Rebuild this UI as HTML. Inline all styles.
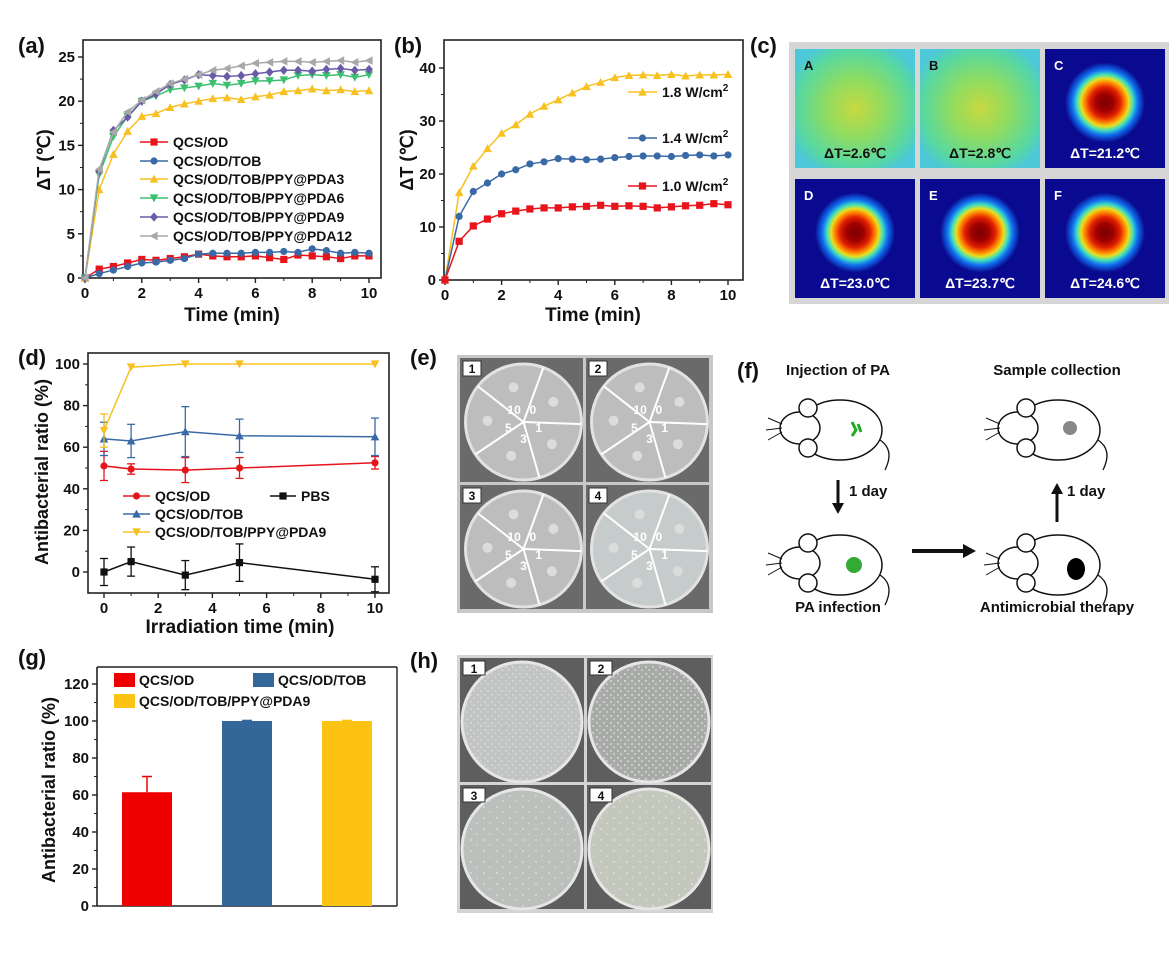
<!DOCTYPE html>
<html><head><meta charset="utf-8"><style>
html,body{margin:0;padding:0;background:#fff;}
svg{display:block;font-family:"Liberation Sans",Arial,sans-serif;}
text{font-weight:bold;}
</style></head><body>
<svg id="fig" width="1170" height="963" viewBox="0 0 1170 963" xmlns="http://www.w3.org/2000/svg">
<defs>
<radialGradient id="hot" cx="50%" cy="50%" r="50%">
<stop offset="0" stop-color="#7a0000"/><stop offset="0.22" stop-color="#a00000"/><stop offset="0.38" stop-color="#e02000"/><stop offset="0.5" stop-color="#ff8000"/><stop offset="0.6" stop-color="#e8e020"/><stop offset="0.7" stop-color="#40e0c0"/><stop offset="0.82" stop-color="#1070f0"/><stop offset="1" stop-color="#0a0a90"/>
</radialGradient>
<radialGradient id="warm" cx="50%" cy="50%" r="60%">
<stop offset="0" stop-color="#c8d840"/><stop offset="0.4" stop-color="#90dc60"/><stop offset="0.8" stop-color="#58d8a0"/><stop offset="1" stop-color="#4cc8d8"/>
</radialGradient>
<pattern id="speck" width="7" height="7" patternUnits="userSpaceOnUse"><circle cx="2" cy="2" r="0.9" fill="#eee"/><circle cx="5" cy="5" r="0.8" fill="#f4f4f4"/></pattern>
<pattern id="speck2" width="13" height="11" patternUnits="userSpaceOnUse"><circle cx="3" cy="4" r="0.9" fill="#fafafa"/><circle cx="9" cy="9" r="0.8" fill="#f4f4f4"/></pattern>
</defs>
<g id="charts"></g>
<g id="pics"></g>
</svg>
<script>
// ---------- data ----------
const timeA = [0,0.5,1,1.5,2,2.5,3,3.5,4,4.5,5,5.5,6,6.5,7,7.5,8,8.5,9,9.5,10];
const aNames = ["QCS/OD","QCS/OD/TOB","QCS/OD/TOB/PPY@PDA3","QCS/OD/TOB/PPY@PDA6","QCS/OD/TOB/PPY@PDA9","QCS/OD/TOB/PPY@PDA12"];
const aQcs = [0,1.0,1.3,1.7,2.1,2.0,2.2,2.4,2.7,2.5,2.4,2.4,2.5,2.3,2.1,2.6,2.5,2.4,2.2,2.5,2.5];
const aTob = [0,0.5,0.9,1.3,1.7,1.8,2.0,2.2,2.7,2.8,2.8,2.8,2.9,2.9,3.0,2.9,3.3,3.1,2.8,2.9,2.8];
const aPda3 = [0,10,14,16.6,18.3,18.6,19.3,19.7,20.0,20.3,20.4,20.2,20.5,20.7,21.1,21.2,21.4,21.2,21.3,21.1,21.2];
const aPda6 = [0,11.7,16.0,18.3,20.0,20.6,21.3,21.5,21.7,22.0,21.8,22.0,22.3,22.3,22.4,22.9,23.0,22.9,23.0,22.7,23.0];
const aPda9 = [0,12.1,16.7,18.2,20.0,20.8,21.9,22.4,23.0,22.9,22.8,22.9,23.1,23.3,23.5,23.5,23.4,23.6,23.7,23.5,23.6];
const aPda12 = [0,12.3,16.5,18.8,20.1,21.1,22.0,22.5,23.0,23.5,23.7,24.0,24.3,24.4,24.5,24.5,24.4,24.5,24.6,24.4,24.6];
const aYTicks = [0,5,10,15,20,25];
const xTicks10 = [0,2,4,6,8,10];

const bNames = ["1.8 W/cm","1.4 W/cm","1.0 W/cm"];
const b18 = [0,16.5,21.5,24.8,27.7,29.3,31.3,32.8,34.0,35.3,36.5,37.3,38.2,38.6,38.7,38.6,38.8,38.5,38.7,38.7,38.8];
const b14 = [0,12,16.7,18.3,20,20.8,21.9,22.3,22.9,22.8,22.7,22.8,23.1,23.3,23.4,23.4,23.3,23.5,23.6,23.4,23.6];
const b10 = [0,7.3,10.2,11.5,12.5,13.0,13.4,13.6,13.6,13.8,13.9,14.1,13.9,14.0,13.9,13.6,13.8,14.0,14.1,14.4,14.2];
const bYTicks = [0,10,20,30,40];

const dTime = [0,1,3,5,10];
const dNames = ["QCS/OD","PBS","QCS/OD/TOB","QCS/OD/TOB/PPY@PDA9"];
const dQcs = [51,49.5,49,50,52.5];
const dQcsErr = [7,2.5,6,5,3];
const dTob = [64,63,67.5,65.5,65];
const dTobErr = [8,8,12,8,9];
const dPda9 = [68,98.5,100,100,100];
const dPda9Err = [8,0,0,0,0];
const dPbs = [0,5,-1.5,4.5,-3.5];
const dPbsErr = [6.5,7,7,9,6];
const dYTicks = [0,20,40,60,80,100];

const gNames = ["QCS/OD","QCS/OD/TOB","QCS/OD/TOB/PPY@PDA9"];
const gVals = [61.5,100,100];
const gErr = [8.5,0.3,0.3];
const gYTicks = [0,20,40,60,80,100,120];

// ---------- helpers ----------
const NS="http://www.w3.org/2000/svg";
const root=document.getElementById('charts');
function mk(tag,attrs,parent){const e=document.createElementNS(NS,tag);for(const k in attrs)e.setAttribute(k,attrs[k]);(parent||root).appendChild(e);return e;}
function txt(x,y,s,size,anchor,parent,fill){const t=mk('text',{x:x,y:y,'font-size':size,'text-anchor':anchor||'start',fill:fill||'#111'},parent);t.textContent=s;return t;}
function scale(d0,d1,r0,r1){return v=>r0+(v-d0)/(d1-d0)*(r1-r0);}
function marker(g,shape,x,y,c,s){
  s=s||3.6;let e;
  if(shape==='sq') e=mk('rect',{x:x-s,y:y-s,width:2*s,height:2*s,fill:c},g);
  else if(shape==='ci') e=mk('circle',{cx:x,cy:y,r:s,fill:c},g);
  else if(shape==='tu') e=mk('polygon',{points:`${x},${y-s*1.2} ${x-s*1.2},${y+s} ${x+s*1.2},${y+s}`,fill:c},g);
  else if(shape==='td') e=mk('polygon',{points:`${x},${y+s*1.2} ${x-s*1.2},${y-s} ${x+s*1.2},${y-s}`,fill:c},g);
  else if(shape==='di') e=mk('polygon',{points:`${x},${y-s*1.3} ${x+s*1.1},${y} ${x},${y+s*1.3} ${x-s*1.1},${y}`,fill:c},g);
  else e=mk('polygon',{points:`${x-s*1.2},${y} ${x+s},${y-s*1.2} ${x+s},${y+s*1.2}`,fill:c},g);
  return e;
}
function frame(g,L,R,T,B,xs,ys,xt,yt,minorX,minorY){
  mk('rect',{x:L,y:T,width:R-L,height:B-T,fill:'none',stroke:'#222','stroke-width':1.6},g);
  xt.forEach(v=>{const x=xs(v);mk('line',{x1:x,y1:B,x2:x,y2:B+5,stroke:'#222','stroke-width':1.4},g);txt(x,B+20,String(v),15,'middle',g);});
  yt.forEach(v=>{const y=ys(v);mk('line',{x1:L,y1:y,x2:L-5,y2:y,stroke:'#222','stroke-width':1.4},g);txt(L-8,y+5,String(v),15,'end',g);});
  (minorX||[]).forEach(v=>{const x=xs(v);mk('line',{x1:x,y1:B,x2:x,y2:B+3,stroke:'#222','stroke-width':1},g);});
  (minorY||[]).forEach(v=>{const y=ys(v);mk('line',{x1:L,y1:y,x2:L-3,y2:y,stroke:'#222','stroke-width':1},g);});
}
function series(g,xs,ys,X,Y,c,shape,name){
  const s=mk('g',{},g);
  
  
  mk('polyline',{points:X.map((v,i)=>xs(v)+','+ys(Y[i])).join(' '),fill:'none',stroke:c,'stroke-width':1.5},s);
  X.forEach((v,i)=>{const m=marker(s,shape,xs(v),ys(Y[i]),c);
    
    });
  return s;
}
function legendLine(g,x1,x2,y,c,shape,label,sup){
  const le=mk('g',{},g);
  
  
  mk('line',{x1:x1,y1:y,x2:x2,y2:y,stroke:c,'stroke-width':1.6},le);
  marker(le,shape,(x1+x2)/2,y,c);
  const t=txt(x2+5,y+5,label,14,'start',le);
  if(sup){const ts=document.createElementNS(NS,'tspan');ts.setAttribute('dy','-6');ts.setAttribute('font-size','10');ts.textContent=sup;t.appendChild(ts);}
}
const mids=[];for(let i=1;i<10;i+=2)mids.push(i);

// ---------- (a) ----------
(function(){
  const g=mk('g',{});
  const L=83,R=381,T=40,B=278;
  const xs=scale(0,10,85,369), ys=scale(0,25,278,57);
  frame(g,L,R,T,B,xs,ys,xTicks10,aYTicks,mids,[2.5,7.5,12.5,17.5,22.5]);
  const cols=['#e8141c','#3a6aa6','#f8c020','#3cc070','#6a5aa8','#a8a8a8'];
  const shp=['sq','ci','tu','td','di','tl'];
  const Ys=[aQcs,aTob,aPda3,aPda6,aPda9,aPda12];
  Ys.forEach((Y,i)=>series(g,xs,ys,timeA,Y,cols[i],shp[i],'series-'+aNames[i].toLowerCase().replace(/[^a-z0-9]+/g,'-')));
  const ly=[142,161,179,198,217,236];
  aNames.forEach((n,i)=>legendLine(g,140,168,ly[i],cols[i],shp[i],n));
  txt(18,53,'(a)',22,'start',g);
  const yt=txt(0,0,'ΔT (℃)',18,'middle',g);yt.setAttribute('transform','translate(50,160) rotate(-90)');
  
  txt(232,321,'Time (min)',19,'middle',g);
})();

// ---------- (b) ----------
(function(){
  const g=mk('g',{});
  const L=444,R=743,T=40,B=280;
  const xs=scale(0,10,445,728), ys=scale(0,40,280,68);
  frame(g,L,R,T,B,xs,ys,xTicks10,bYTicks,mids,[5,15,25,35]);
  const cols=['#f8c020','#3a6aa6','#e8141c'], shp=['tu','ci','sq'];
  [b18,b14,b10].forEach((Y,i)=>series(g,xs,ys,timeA,Y,cols[i],shp[i],'series-'+bNames[i].replace(/[^0-9]/g,'')));
  const ly=[92,138,186];
  bNames.forEach((n,i)=>legendLine(g,628,657,ly[i],cols[i],shp[i],n,'2'));
  txt(394,53,'(b)',22,'start',g);
  const yt=txt(0,0,'ΔT (℃)',18,'middle',g);yt.setAttribute('transform','translate(413,160) rotate(-90)');
  
  txt(593,321,'Time (min)',19,'middle',g);
})();

// ---------- (d) ----------
(function(){
  const g=mk('g',{});
  const L=88,R=389,T=353,B=593;
  const xs=scale(0,10,104,375), ys=scale(0,100,572,364);
  frame(g,L,R,T,B,xs,ys,xTicks10,dYTicks,mids,[10,30,50,70,90]);
  const sets=[[dQcs,dQcsErr,'#e8141c','ci','series-qcs-od'],[dTob,dTobErr,'#3a6aa6','tu','series-qcs-od-tob'],[dPda9,dPda9Err,'#f8c020','td','series-pda9'],[dPbs,dPbsErr,'#111','sq','series-pbs']];
  sets.forEach(([Y,E,c,sh,nm])=>{
    const s=series(g,xs,ys,dTime,Y,c,sh,nm);
    dTime.forEach((v,i)=>{if(!E[i])return;const x=xs(v),y1=Math.min(B,ys(Y[i]-E[i])),y2=ys(Y[i]+E[i]);
      mk('line',{x1:x,y1:y1,x2:x,y2:y2,stroke:c,'stroke-width':1.3},s);
      mk('line',{x1:x-4,y1:y1,x2:x+4,y2:y1,stroke:c,'stroke-width':1.3},s);
      mk('line',{x1:x-4,y1:y2,x2:x+4,y2:y2,stroke:c,'stroke-width':1.3},s);});
  });
  legendLine(g,123,150,496,'#e8141c','ci',dNames[0]);
  legendLine(g,270,296,496,'#111','sq',dNames[1]);
  legendLine(g,123,150,514,'#3a6aa6','tu',dNames[2]);
  legendLine(g,123,150,532,'#f8c020','td',dNames[3]);
  txt(18,365,'(d)',22,'start',g);
  const yt=txt(0,0,'Antibacterial ratio (%)',18,'middle',g);yt.setAttribute('transform','translate(48,472) rotate(-90)');
  
  txt(240,633,'Irradiation time (min)',19,'middle',g);
})();

// ---------- (g) ----------
(function(){
  const g=mk('g',{});
  const L=97,R=397,T=667,B=906;
  const ys=scale(0,120,906,684);
  mk('line',{x1:L,y1:T,x2:R,y2:T,stroke:'#222','stroke-width':1.4},g);
  mk('line',{x1:R,y1:T,x2:R,y2:B,stroke:'#222','stroke-width':1.4},g);
  mk('line',{x1:L,y1:T,x2:L,y2:B,stroke:'#222','stroke-width':1.6},g);
  mk('line',{x1:L,y1:B,x2:R,y2:B,stroke:'#222','stroke-width':1.6},g);
  gYTicks.forEach(v=>{const y=ys(v);mk('line',{x1:L,y1:y,x2:L-5,y2:y,stroke:'#222','stroke-width':1.4},g);txt(L-8,y+5,String(v),15,'end',g);});
  [10,30,50,70,90,110].forEach(v=>{const y=ys(v);mk('line',{x1:L,y1:y,x2:L-3,y2:y,stroke:'#222'},g);});
  const cols=['#ee0000','#336699','#fcc314'];
  const band=(R-L)/3, bw=50;
  gVals.forEach((v,i)=>{
    const cx=L+band*(i+0.5);
    const r=mk('rect',{x:cx-bw/2,y:ys(v),width:bw,height:B-ys(v),fill:cols[i]},g);
    
    
    const y2=ys(v+gErr[i]);
    mk('line',{x1:cx,y1:ys(v),x2:cx,y2:y2,stroke:cols[i],'stroke-width':1.5},g);
    mk('line',{x1:cx-5,y1:y2,x2:cx+5,y2:y2,stroke:cols[i],'stroke-width':1.5},g);
  });
  const leg=[[114,673,0],[253,673,1],[114,694,2]];
  leg.forEach(([x,y,i])=>{const le=mk('g',{},g);
    
    
    mk('rect',{x:x,y:y,width:21,height:14,fill:cols[i]},le);txt(x+25,y+12,gNames[i],14,'start',le);});
  txt(18,665,'(g)',22,'start',g);
  const yt=txt(0,0,'Antibacterial ratio (%)',18,'middle',g);yt.setAttribute('transform','translate(55,790) rotate(-90)');
  
})();

// ---------- pictures ----------
const P=document.getElementById('pics');
function pk(tag,a,p){return mk(tag,a,p||P);}
function ptxt(x,y,s,size,anchor,fill,p){const t=pk('text',{x:x,y:y,'font-size':size,'text-anchor':anchor||'start',fill:fill||'#111'},p);t.textContent=s;return t;}

// (c) thermal
(function(){
  const g=pk('g',{});
  ptxt(750,53,'(c)',22,'start','#111',g);
  pk('rect',{x:789,y:42,width:380,height:262,fill:'#d6d6d6'},g);
  const labels=['A','B','C','D','E','F'], dts=['ΔT=2.6℃','ΔT=2.8℃','ΔT=21.2℃','ΔT=23.0℃','ΔT=23.7℃','ΔT=24.6℃'];
  labels.forEach((l,i)=>{
    const x=795+(i%3)*125, y=49+Math.floor(i/3)*130, w=120, h=119;
    const t=pk('g',{},g);
    
    
    if(i<2){pk('rect',{x:x,y:y,width:w,height:h,fill:'url(#warm)'},t);}
    else{pk('rect',{x:x,y:y,width:w,height:h,fill:'#0a0a90'},t);pk('circle',{cx:x+w/2,cy:y+h/2-6,r:40,fill:'url(#hot)'},t);}
    const fc=i<2?'#111':'#fff';
    ptxt(x+9,y+21,l,13,'start',fc,t);
    ptxt(x+w/2,y+h-10,dts[i],14,'middle',fc,t);
  });
})();

// (e) plates
(function(){
  const g=pk('g',{});
  ptxt(410,365,'(e)',22,'start','#111',g);
  pk('rect',{x:457,y:355,width:256,height:258,fill:'#c8c8c8'},g);
  for(let i=0;i<4;i++){
    const x=460+(i%2)*126, y=358+Math.floor(i/2)*127, w=123, h=124;
    const t=pk('g',{},g);
    
    
    pk('rect',{x:x,y:y,width:w,height:h,fill:'#6a6a6a'},t);
    const cx=x+w/2+2, cy=y+h/2+2, r=58;
    pk('circle',{cx:cx,cy:cy,r:r,fill:i==3?'#c6cccb':'#bdbdbd',stroke:'#e2e2e2','stroke-width':3},t);
    for(let k=0;k<5;k++){const a=-Math.PI/2+k*2*Math.PI/5+0.35;
      pk('line',{x1:cx,y1:cy,x2:cx+Math.cos(a)*r,y2:cy+Math.sin(a)*r,stroke:'#fff','stroke-width':2},t);
      const b=a+Math.PI/5;
      pk('circle',{cx:cx+Math.cos(b)*36,cy:cy+Math.sin(b)*36,r:5,fill:'#dcdcdc'},t);}
    const nums=['0','1','3','5','10'];
    nums.forEach((n,k)=>{const b=-Math.PI/2+k*2*Math.PI/5+0.35+Math.PI/5-0.35;
      ptxt(cx+Math.cos(b)*16,cy+Math.sin(b)*16+5,n,12,'middle','#fff',t);});
    pk('rect',{x:x+3,y:y+3,width:18,height:15,fill:'#fff',stroke:'#333'},t);
    ptxt(x+12,y+15,String(i+1),12,'middle','#111',t);
  }
})();

// (f) mouse schematic
(function(){
  const g=pk('g',{});
  ptxt(737,378,'(f)',22,'start','#111',g);
  ptxt(838,375,'Injection of PA',15,'middle','#111',g);
  ptxt(1057,375,'Sample collection',15,'middle','#111',g);
  ptxt(838,612,'PA infection',15,'middle','#111',g);
  ptxt(1057,612,'Antimicrobial therapy',15,'middle','#111',g);
  function mouse(cx,cy,spot){
    const m=pk('g',{},g);
    
    
    pk('ellipse',{cx:cx+10,cy:cy,rx:42,ry:30,fill:'#fff',stroke:'#111','stroke-width':1.5},m);
    pk('ellipse',{cx:cx-30,cy:cy-2,rx:20,ry:16,fill:'#fff',stroke:'#111','stroke-width':1.5},m);
    pk('circle',{cx:cx-22,cy:cy-22,r:9,fill:'#fff',stroke:'#111','stroke-width':1.5},m);
    pk('circle',{cx:cx-22,cy:cy+18,r:9,fill:'#fff',stroke:'#111','stroke-width':1.5},m);
    pk('path',{d:`M${cx+50},${cy+10} q15,10 5,30`,fill:'none',stroke:'#111','stroke-width':1.3},m);
    pk('path',{d:`M${cx-48},${cy-6} l-14,-6 M${cx-48},${cy-2} l-16,2 M${cx-48},${cy+2} l-14,8`,stroke:'#111','stroke-width':1},m);
    if(spot==='g1')pk('path',{d:`M${cx+22},${cy-8} l4,8 l-4,6 M${cx+28},${cy-6} l3,8`,stroke:'#2a2','stroke-width':3,fill:'none'},m);
    if(spot==='g2')pk('circle',{cx:cx+24,cy:cy,r:8,fill:'#3a3'},m);
    if(spot==='b')pk('ellipse',{cx:cx+28,cy:cy+4,rx:9,ry:11,fill:'#000'},m);
    if(spot==='s')pk('circle',{cx:cx+22,cy:cy-2,r:7,fill:'#888'},m);
  }
  mouse(830,430,'g1');mouse(1048,430,'s');mouse(830,565,'g2');mouse(1048,565,'b');
  pk('line',{x1:838,y1:480,x2:838,y2:505,stroke:'#111','stroke-width':3},g);
  pk('polygon',{points:'832,503 844,503 838,514',fill:'#111'},g);
  ptxt(849,496,'1 day',15,'start','#111',g);
  pk('line',{x1:1057,y1:492,x2:1057,y2:522,stroke:'#111','stroke-width':3},g);
  pk('polygon',{points:'1051,494 1063,494 1057,483',fill:'#111'},g);
  ptxt(1067,496,'1 day',15,'start','#111',g);
  pk('line',{x1:912,y1:551,x2:965,y2:551,stroke:'#111','stroke-width':4},g);
  pk('polygon',{points:'963,544 963,558 976,551',fill:'#111'},g);
})();

// (h) colonies
(function(){
  const g=pk('g',{});
  ptxt(410,668,'(h)',22,'start','#111',g);
  pk('rect',{x:457,y:655,width:256,height:258,fill:'#d4d4d4'},g);
  const fills=['#c2c4c4','#a8aaa8','#bcc0bc','#c4c8bc'];
  const pats=['url(#speck)','url(#speck)','url(#speck2)','url(#speck2)'];
  for(let i=0;i<4;i++){
    const x=460+(i%2)*127, y=658+Math.floor(i/2)*127, w=124, h=124;
    const t=pk('g',{},g);
    
    
    pk('rect',{x:x,y:y,width:w,height:h,fill:'#5e5e5e'},t);
    const cx=x+w/2, cy=y+h/2+2;
    pk('circle',{cx:cx,cy:cy,r:60,fill:fills[i],stroke:'#e6e6e6','stroke-width':3},t);
    pk('circle',{cx:cx,cy:cy,r:58,fill:pats[i],opacity:i==1?0.9:0.6},t);
    pk('rect',{x:x+3,y:y+3,width:22,height:14,fill:'#fff',stroke:'#333'},t);
    ptxt(x+14,y+15,String(i+1),12,'middle','#111',t);
  }
})();
</script>
</body></html>
